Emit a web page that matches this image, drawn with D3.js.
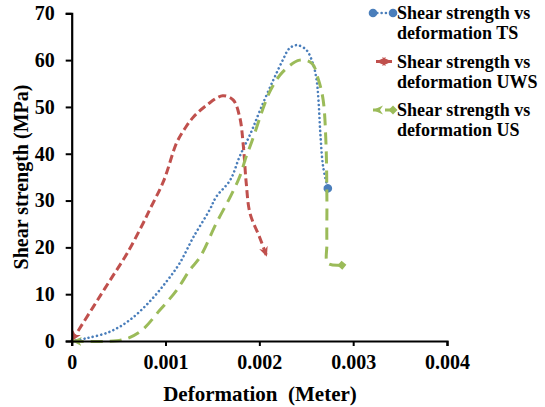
<!DOCTYPE html>
<html>
<head>
<meta charset="utf-8">
<script src="https://cdn.jsdelivr.net/npm/d3@7"></script>
<style>
  body { margin: 0; background: #fff; }
  svg { display: block; font-family: "Liberation Serif", "Times New Roman", serif; font-weight: bold; }
</style>
</head>
<body>
<svg id="chart"></svg>
<script>
// values
const tsX = [0, 0.00016, 0.00041, 0.00062, 0.00083, 0.00101, 0.00115, 0.0013, 0.00147, 0.00154, 0.00169, 0.00179, 0.00191, 0.00201, 0.00215, 0.00225, 0.00232, 0.0024, 0.0025, 0.00257, 0.00261, 0.00263, 0.00265, 0.00268, 0.00273];
const tsY = [0, 0.6, 2.0, 4.5, 8.4, 12.7, 16.6, 22.3, 28.0, 30.8, 34.4, 39.4, 44.5, 49.4, 55.8, 60.0, 62.5, 63.2, 62.2, 59.3, 55.8, 51.5, 44.4, 37.2, 32.6];

const uwsX = [0, 0.00023, 0.00041, 0.00059, 0.00076, 0.00083, 0.00098, 0.00112, 0.00121, 0.0013, 0.00144, 0.00161, 0.00172, 0.00179, 0.00183, 0.00186, 0.0019, 0.002, 0.00208];
const uwsY = [0, 7.3, 13.0, 18.7, 25.1, 28.0, 34.2, 42.4, 45.5, 47.9, 50.4, 52.4, 51.5, 47.9, 41.5, 33.8, 27.3, 22.3, 18.0];

const usX = [0, 0.00053, 0.00073, 0.00094, 0.00112, 0.00126, 0.00137, 0.00154, 0.00169, 0.00179, 0.00186, 0.00192, 0.00206, 0.00213, 0.00225, 0.00243, 0.00256, 0.00263, 0.00268, 0.00271, 0.00272, 0.00272, 0.00273, 0.00288];
const usY = [0, 0.2, 2.0, 6.6, 10.9, 15.2, 18.0, 25.1, 30.8, 35.1, 39.4, 42.6, 50.8, 54.0, 57.5, 60.0, 59.3, 55.8, 51.5, 42.2, 30.1, 20.9, 16.6, 16.2];

const seriesNames = ["TS", "UWS", "US"];
const legendLines = [
  ["Shear strength vs", "deformation TS"],
  ["Shear strength vs", "deformation UWS"],
  ["Shear strength vs", "deformation US"]
];
const xTicks = [0, 0.001, 0.002, 0.003, 0.004];
const yTicks = [0, 10, 20, 30, 40, 50, 60, 70];
const xTitle = "Deformation  (Meter)";
const yTitle = "Shear strength (MPa)";

const W = 545, H = 407;
const margin = { top: 13.3, left: 71.7, right: 98, bottom: 66 };
const width = W - margin.left - margin.right;
const height = H - margin.top - margin.bottom;

const colors = { TS: "#4a7ebb", UWS: "#c0504d", US: "#9bbb59" };
const styles = {
  TS: { dash: "0.01 4.3", cap: "round", w: 2.6, start: null, end: "dot" },
  UWS: { dash: "8 4", cap: "butt", w: 3, start: "arrow", end: "arrow" },
  US: { dash: "12 7", cap: "butt", w: 3, start: "arrow", end: "diamond" }
};

const series = [
  { name: "TS", values: tsX.map((x, i) => ({ x, y: tsY[i] })) },
  { name: "UWS", values: uwsX.map((x, i) => ({ x, y: uwsY[i] })) },
  { name: "US", values: usX.map((x, i) => ({ x, y: usY[i] })) }
];

const svg = d3.select("#chart").attr("width", W).attr("height", H);

// markers for line ends
const defs = svg.append("defs");
seriesNames.forEach(n => {
  const c = colors[n];
  defs.append("marker").attr("id", `dot-${n}`)
    .attr("markerUnits", "userSpaceOnUse").attr("viewBox", "-5 -5 10 10")
    .attr("markerWidth", 10).attr("markerHeight", 10).attr("orient", "auto")
    .append("circle").attr("r", 4.3).attr("fill", c);
  defs.append("marker").attr("id", `arrow-${n}`)
    .attr("markerUnits", "userSpaceOnUse").attr("viewBox", "-10 -5 10 10")
    .attr("refX", 0).attr("refY", 0)
    .attr("markerWidth", 10).attr("markerHeight", 10).attr("orient", "auto-start-reverse")
    .append("path").attr("d", "M-10,-4.5L0,0L-10,4.5L-7,0Z").attr("fill", c);
  defs.append("marker").attr("id", `diamond-${n}`)
    .attr("markerUnits", "userSpaceOnUse").attr("viewBox", "-5 -5 10 10")
    .attr("markerWidth", 10).attr("markerHeight", 10).attr("orient", "auto")
    .append("path").attr("d", "M0,-4.5L4.5,0L0,4.5L-4.5,0Z").attr("fill", c);
});

const g = svg.append("g").attr("transform", `translate(${margin.left},${margin.top})`);

const x = d3.scaleLinear().domain([0, 0.004]).range([0, width]);
const y = d3.scaleLinear().domain([0, 70]).range([height, 0]);

const line = d3.line().x(d => x(d.x)).y(d => y(d.y)).curve(d3.curveCatmullRom.alpha(0.5));

// curves
g.selectAll("path.series")
  .data(series)
  .join("path")
  .attr("class", "series")
  .attr("d", d => line(d.values))
  .attr("fill", "none")
  .attr("stroke", d => colors[d.name])
  .attr("stroke-width", d => styles[d.name].w)
  .attr("stroke-dasharray", d => styles[d.name].dash)
  .attr("stroke-linecap", d => styles[d.name].cap)
  .attr("marker-start", d => styles[d.name].start ? `url(#${styles[d.name].start}-${d.name})` : null)
  .attr("marker-end", d => styles[d.name].end ? `url(#${styles[d.name].end}-${d.name})` : null);

// axes
const xAxis = g.append("g").attr("transform", `translate(0,${height})`)
  .call(d3.axisBottom(x).tickValues(xTicks).tickSize(5).tickPadding(9)
    .tickFormat(d => d === 0 ? "0" : d3.format(".3f")(d)));
const yAxis = g.append("g")
  .call(d3.axisLeft(y).tickValues(yTicks).tickSize(6).tickPadding(11));

[xAxis, yAxis].forEach(a => {
  a.select(".domain").attr("stroke", "#000").attr("stroke-width", 2.2);
  a.selectAll(".tick line").attr("stroke", "#000").attr("stroke-width", 2);
  a.selectAll(".tick text").attr("fill", "#000")
    .style("font-family", "'Liberation Serif', 'Times New Roman', serif")
    .style("font-weight", "bold").style("font-size", "20px");
});

// axis titles
svg.append("text")
  .attr("x", 260).attr("y", 401)
  .attr("text-anchor", "middle")
  .style("font-size", "21px")
  .style("white-space", "pre")
  .text(xTitle);

svg.append("text")
  .attr("transform", "translate(28,177) rotate(-90)")
  .attr("text-anchor", "middle")
  .style("font-size", "20px")
  .text(yTitle);

// legend
const legend = svg.append("g").attr("transform", "translate(373,13)");
seriesNames.forEach((n, i) => {
  const row = legend.append("g").attr("transform", `translate(0,${i * 48.5})`);
  row.append("path")
    .attr("d", n === "UWS" ? "M3,0L19,0" : "M0,0L20,0")
    .attr("fill", "none")
    .attr("stroke", colors[n])
    .attr("stroke-width", styles[n].w)
    .attr("stroke-dasharray", n === "TS" ? "0.01 4.3" : (n === "US" ? "7 5" : "4 2"))
    .attr("stroke-linecap", styles[n].cap)
    .attr("marker-start", n === "TS" ? `url(#dot-${n})` : `url(#arrow-${n})`)
    .attr("marker-end", `url(#${styles[n].end}-${n})`);
  legendLines[i].forEach((t, j) => {
    row.append("text")
      .attr("x", 24).attr("y", j * 20 + 6)
      .style("font-size", "18px")
      .attr("fill", "#000")
      .text(t);
  });
});
</script>
</body>
</html>
